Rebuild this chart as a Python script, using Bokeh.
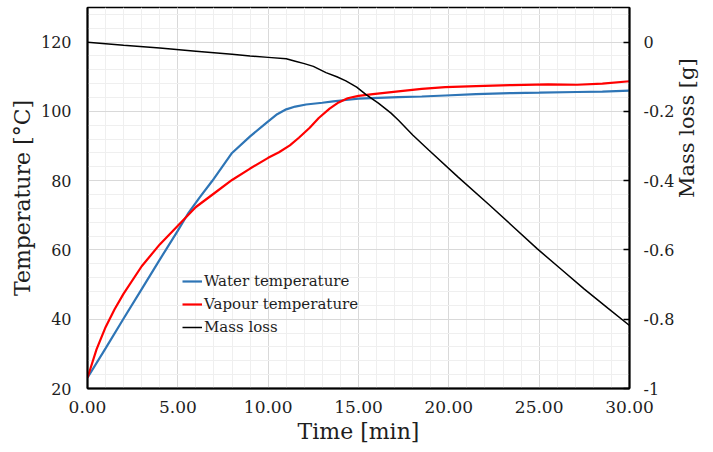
import math
from bokeh.plotting import figure
from bokeh.models import Range1d, LinearAxis, FixedTicker, Legend, LegendItem
from bokeh.embed import file_html
from bokeh.resources import INLINE

# ---- data ----
water_time = [0, 1, 2, 3, 4, 5, 5.6, 6.2, 6.9, 8.0, 9.0, 9.9, 10.5, 11.0, 11.5, 12.1,
              13.0, 13.6, 14.3, 15.0, 16.1, 17.2, 18.5, 19.8, 21.5, 23.5, 25.0, 27.1, 28.5, 30.0]
water_temp = [23.1, 31.6, 40.2, 48.7, 57.2, 65.6, 70.8, 75.1, 79.9, 88.0, 92.8, 96.7, 99.2,
              100.6, 101.4, 102.0, 102.5, 102.9, 103.3, 103.7, 103.9, 104.1, 104.3, 104.6,
              105.0, 105.3, 105.4, 105.6, 105.7, 106.0]

vapour_time = [0, 0.5, 1, 1.5, 2, 3, 4, 5, 6, 7, 8, 9, 10, 10.6, 11.2, 11.7, 12.3, 12.8,
               13.4, 13.9, 14.4, 15.0, 15.8, 17.2, 18.5, 19.8, 21.5, 23.5, 25.5, 27.1, 28.5, 30.0]
vapour_temp = [23.1, 31.3, 37.7, 42.9, 47.4, 55.3, 61.6, 67.0, 72.4, 76.3, 80.2, 83.5, 86.6,
               88.2, 90.2, 92.4, 95.3, 98.1, 100.8, 102.6, 103.8, 104.5, 105.0, 105.8, 106.5,
               107.0, 107.3, 107.6, 107.8, 107.7, 108.0, 108.7]

mass_time = [0, 2, 4, 6, 8, 9, 10, 11, 11.5, 12, 12.5, 13.2, 13.8, 14.3, 14.9, 15.4, 16.1,
             16.8, 17.2, 18.0, 18.9, 20.5, 22.2, 23.5, 24.9, 26.2, 27.5, 28.8, 30.0]
mass_loss = [0, -0.009, -0.017, -0.026, -0.035, -0.040, -0.044, -0.048, -0.055, -0.062,
             -0.070, -0.088, -0.100, -0.112, -0.130, -0.151, -0.176, -0.205, -0.225, -0.268,
             -0.312, -0.389, -0.468, -0.530, -0.597, -0.655, -0.713, -0.768, -0.818]

x_ticks = [0, 5, 10, 15, 20, 25, 30]
x_tick_labels = ["0.00", "5.00", "10.00", "15.00", "20.00", "25.00", "30.00"]
x_minor = list(range(0, 31))
y_ticks = [20, 40, 60, 80, 100, 120]
y_tick_labels = ["20", "40", "60", "80", "100", "120"]
y_minor = list(range(20, 131, 4))
m_ticks = [-1, -0.8, -0.6, -0.4, -0.2, 0]
m_tick_labels = ["-1", "-0.8", "-0.6", "-0.4", "-0.2", "0"]

TXT = "#1e1e1e"
SERIF = "DejaVu Serif"

p = figure(width=713, height=452, output_backend="svg", toolbar_location=None,
           x_range=Range1d(0, 30), y_range=Range1d(20, 130),
           min_border_left=87, min_border_right=81, min_border_top=7, min_border_bottom=64)
p.background_fill_color = "white"
p.border_fill_color = "white"
p.outline_line_color = "black"
p.outline_line_width = 1.5

p.extra_y_ranges = {"mass": Range1d(-1, 0.1)}

# grids
for g in (p.xgrid, p.ygrid):
    g.grid_line_color = "#d9d9d9"
    g.grid_line_width = 1
    g.minor_grid_line_color = "#efefef"
    g.minor_grid_line_width = 1

# bottom axis
xa = p.xaxis[0]
xa.ticker = FixedTicker(ticks=x_ticks, minor_ticks=x_minor)
xa.major_label_overrides = dict(zip(x_ticks, x_tick_labels))
xa.major_tick_in = 0
xa.major_tick_out = 0
xa.minor_tick_in = 0
xa.minor_tick_out = 0
xa.axis_line_color = "black"
xa.axis_line_width = 2
xa.major_label_text_font = SERIF
xa.major_label_text_font_size = "17px"
xa.major_label_text_color = TXT
xa.major_label_standoff = 12
xa.axis_label = "Time [min]"
xa.axis_label_text_font = SERIF
xa.axis_label_text_font_size = "22px"
xa.axis_label_text_font_style = "normal"
xa.axis_label_text_color = TXT
xa.axis_label_standoff = 3

# left axis
ya = p.yaxis[0]
ya.ticker = FixedTicker(ticks=y_ticks, minor_ticks=y_minor)
ya.major_label_overrides = dict(zip(y_ticks, y_tick_labels))
ya.major_tick_in = 0
ya.major_tick_out = 0
ya.minor_tick_in = 0
ya.minor_tick_out = 0
ya.axis_line_color = "black"
ya.axis_line_width = 2
ya.major_label_text_font = SERIF
ya.major_label_text_font_size = "16px"
ya.major_label_text_color = TXT
ya.major_label_standoff = 16
ya.axis_label = "Temperature [°C]"
ya.axis_label_text_font = SERIF
ya.axis_label_text_font_size = "22px"
ya.axis_label_text_font_style = "normal"
ya.axis_label_text_color = TXT
ya.axis_label_standoff = 3

# right axis (ticks and tick labels)
ra = LinearAxis(y_range_name="mass", ticker=FixedTicker(ticks=m_ticks, minor_ticks=[]))
ra.major_label_overrides = dict(zip(m_ticks, m_tick_labels))
ra.major_tick_in = 6
ra.major_tick_out = 0
ra.major_tick_line_color = "black"
ra.major_tick_line_width = 1.5
ra.minor_tick_in = 0
ra.minor_tick_out = 0
ra.axis_line_color = "black"
ra.axis_line_width = 2
ra.major_label_text_font = SERIF
ra.major_label_text_font_size = "16px"
ra.major_label_text_color = TXT
ra.major_label_standoff = 14
p.add_layout(ra, "right")

# right axis title, carried by a tick-less axis so it reads bottom-to-top
rt = LinearAxis(y_range_name="mass", ticker=FixedTicker(ticks=[], minor_ticks=[]),
                bounds=(-1.0, -0.272))
rt.axis_line_alpha = 0
rt.major_tick_in = 0
rt.major_tick_out = 0
rt.minor_tick_in = 0
rt.minor_tick_out = 0
rt.major_label_standoff = 0
rt.axis_label = "Mass loss [g]"
rt.axis_label_text_font = SERIF
rt.axis_label_text_font_size = "21px"
rt.axis_label_text_font_style = "normal"
rt.axis_label_text_color = TXT
rt.axis_label_standoff = 9
try:
    rt.axis_label_orientation = math.pi / 2
except Exception:
    pass
p.add_layout(rt, "right")

# series
r_w = p.line(water_time, water_temp, line_color="#2E75B6", line_width=2.2)
r_v = p.line(vapour_time, vapour_temp, line_color="#FF0000", line_width=2.2)
r_m = p.line(mass_time, mass_loss, y_range_name="mass", line_color="black", line_width=1.5)

legend = Legend(items=[LegendItem(label="Water temperature", renderers=[r_w]),
                       LegendItem(label="Vapour temperature", renderers=[r_v]),
                       LegendItem(label="Mass loss", renderers=[r_m])],
                location=(95, 51), orientation="vertical",
                background_fill_alpha=0, border_line_alpha=0,
                padding=0, margin=0, spacing=3,
                glyph_width=20, glyph_height=20, label_height=20, label_standoff=2,
                label_text_font=SERIF, label_text_font_size="15px",
                label_text_color=TXT)
p.add_layout(legend)

open("out.html", "w").write(file_html(p, INLINE))
